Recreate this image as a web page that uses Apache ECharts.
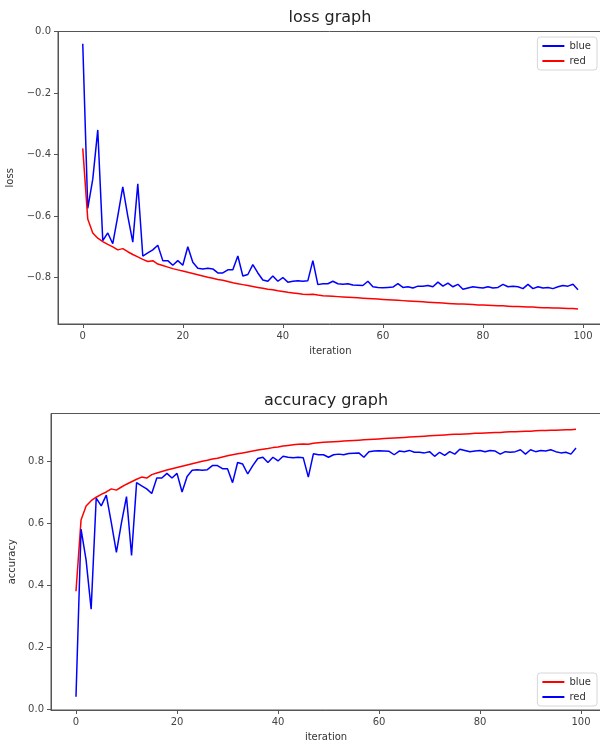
<!DOCTYPE html>
<html><head><meta charset="utf-8">
<script src="https://cdn.jsdelivr.net/npm/echarts@6/dist/echarts.min.js"></script>
<style>html,body{margin:0;padding:0;background:#fff;overflow:hidden}#chartTop{width:600px;height:372px}#chartBot{width:600px;height:373px}</style>
</head><body><div id="chartTop"></div><div id="chartBot"></div>
<script>
const iterations = [0,1,2,3,4,5,6,7,8,9,10,11,12,13,14,15,16,17,18,19,20,21,22,23,24,25,26,27,28,29,30,31,32,33,34,35,36,37,38,39,40,41,42,43,44,45,46,47,48,49,50,51,52,53,54,55,56,57,58,59,60,61,62,63,64,65,66,67,68,69,70,71,72,73,74,75,76,77,78,79,80,81,82,83,84,85,86,87,88,89,90,91,92,93,94,95,96,97,98,99];
const lossBlue = [-0.040,-0.575,-0.480,-0.320,-0.680,-0.655,-0.690,-0.600,-0.505,-0.600,-0.685,-0.495,-0.730,-0.720,-0.710,-0.695,-0.745,-0.745,-0.760,-0.745,-0.760,-0.700,-0.750,-0.770,-0.772,-0.770,-0.772,-0.785,-0.785,-0.775,-0.775,-0.730,-0.795,-0.790,-0.758,-0.785,-0.808,-0.812,-0.795,-0.812,-0.800,-0.815,-0.812,-0.810,-0.812,-0.810,-0.745,-0.823,-0.820,-0.820,-0.812,-0.820,-0.822,-0.820,-0.824,-0.825,-0.826,-0.812,-0.830,-0.832,-0.833,-0.832,-0.831,-0.820,-0.832,-0.830,-0.834,-0.828,-0.828,-0.826,-0.830,-0.815,-0.828,-0.818,-0.830,-0.822,-0.838,-0.834,-0.830,-0.832,-0.834,-0.830,-0.834,-0.832,-0.822,-0.830,-0.828,-0.830,-0.836,-0.822,-0.836,-0.830,-0.834,-0.832,-0.836,-0.830,-0.826,-0.828,-0.822,-0.840];
const lossRed = [-0.380,-0.610,-0.655,-0.672,-0.683,-0.692,-0.700,-0.710,-0.706,-0.716,-0.725,-0.733,-0.741,-0.748,-0.745,-0.756,-0.761,-0.766,-0.771,-0.775,-0.779,-0.783,-0.787,-0.791,-0.795,-0.799,-0.802,-0.806,-0.809,-0.813,-0.817,-0.820,-0.823,-0.826,-0.829,-0.832,-0.835,-0.838,-0.840,-0.843,-0.845,-0.848,-0.850,-0.852,-0.854,-0.855,-0.854,-0.857,-0.859,-0.860,-0.861,-0.862,-0.863,-0.864,-0.865,-0.866,-0.867,-0.868,-0.869,-0.870,-0.871,-0.872,-0.873,-0.874,-0.875,-0.876,-0.877,-0.878,-0.879,-0.880,-0.881,-0.882,-0.883,-0.884,-0.885,-0.886,-0.886,-0.887,-0.888,-0.889,-0.889,-0.890,-0.891,-0.892,-0.892,-0.893,-0.894,-0.894,-0.895,-0.896,-0.896,-0.897,-0.898,-0.898,-0.899,-0.899,-0.900,-0.901,-0.901,-0.902];
// accuracy graph: smooth red line is labelled "blue", noisy blue line is labelled "red"
const accSmooth = [0.380,0.610,0.655,0.672,0.683,0.692,0.700,0.710,0.706,0.716,0.725,0.733,0.741,0.748,0.745,0.756,0.761,0.766,0.771,0.775,0.779,0.783,0.787,0.791,0.795,0.799,0.802,0.806,0.809,0.813,0.817,0.820,0.823,0.826,0.829,0.832,0.835,0.838,0.840,0.843,0.845,0.848,0.850,0.852,0.854,0.855,0.854,0.857,0.859,0.860,0.861,0.862,0.863,0.864,0.865,0.866,0.867,0.868,0.869,0.870,0.871,0.872,0.873,0.874,0.875,0.876,0.877,0.878,0.879,0.880,0.881,0.882,0.883,0.884,0.885,0.886,0.886,0.887,0.888,0.889,0.889,0.890,0.891,0.892,0.892,0.893,0.894,0.894,0.895,0.896,0.896,0.897,0.898,0.898,0.899,0.899,0.900,0.901,0.901,0.902];
const accNoisy = [0.040,0.580,0.480,0.322,0.680,0.655,0.690,0.600,0.505,0.600,0.685,0.495,0.730,0.720,0.710,0.695,0.745,0.745,0.760,0.745,0.760,0.700,0.750,0.770,0.772,0.770,0.772,0.785,0.785,0.775,0.775,0.730,0.795,0.790,0.758,0.785,0.808,0.812,0.795,0.812,0.800,0.815,0.812,0.810,0.812,0.810,0.748,0.823,0.820,0.820,0.812,0.820,0.822,0.820,0.824,0.825,0.826,0.812,0.830,0.832,0.833,0.832,0.831,0.820,0.832,0.830,0.834,0.828,0.828,0.826,0.830,0.815,0.828,0.818,0.830,0.822,0.838,0.834,0.830,0.832,0.834,0.830,0.834,0.832,0.822,0.830,0.828,0.830,0.836,0.822,0.836,0.830,0.834,0.832,0.836,0.830,0.826,0.828,0.822,0.842];
const xTicks = [0,20,40,60,80,100];
const lossTicks = [-0.8,-0.6,-0.4,-0.2,0.0];
const accTicks = [0.0,0.2,0.4,0.6,0.8];
const seriesNames = ['blue','red'];

const FONT = 'DejaVu Sans';
const AX = '#555';
function pairs(vals){ return iterations.map((x,i)=>[x, vals[i]]); }
function fmtY(v){ return v.toFixed(1).replace('-', '\u2212'); }

function build(cfg){
  return {
    animation:false,
    textStyle:{fontFamily:FONT},
    graphic:[{type:'text', x:cfg.titleX, y:cfg.titleY, style:{text:cfg.title, fontSize:16, fontFamily:FONT, fill:'#222', align:'center', verticalAlign:'middle', textAlign:'center', textVerticalAlign:'middle'}}],
    grid:{left:cfg.grid.left, right:cfg.grid.right, top:cfg.grid.top, bottom:cfg.grid.bottom, show:true, borderColor:AX, borderWidth:1, backgroundColor:'transparent', outerBoundsMode:'none', containLabel:false},
    legend:Object.assign({
      orient:'vertical', data:seriesNames, icon:'rect', itemWidth:22, itemHeight:2, itemGap:5,
      textStyle:{fontSize:10, color:'#333', fontFamily:FONT},
      backgroundColor:'rgba(255,255,255,0.8)', borderColor:'#d6d6d6', borderWidth:1, borderRadius:3,
      padding:[4,6,4,5], selectedMode:false
    }, cfg.legendPos),
    xAxis:{type:'value', min:-4.95, max:103.95,
      name:'iteration', nameLocation:'middle', nameGap:cfg.xNameGap,
      nameTextStyle:{fontSize:10, color:'#333', fontFamily:FONT},
      axisLine:{show:true, onZero:false, lineStyle:{color:AX, width:1}},
      axisTick:{show:true, length:4, customValues:xTicks, lineStyle:{color:AX}},
      axisLabel:{customValues:xTicks, fontSize:10, color:'#444', margin:7, formatter:v=>String(Math.round(v))},
      splitLine:{show:false}},
    yAxis:{type:'value', min:cfg.yMin, max:cfg.yMax,
      name:cfg.yName, nameLocation:'middle', nameGap:cfg.yNameGap, nameRotate:90,
      nameTextStyle:{fontSize:10, color:'#333', fontFamily:FONT},
      axisLine:{show:true, onZero:false, lineStyle:{color:AX, width:1}},
      axisTick:{show:true, length:4, customValues:cfg.yTicks, lineStyle:{color:AX}},
      axisLabel:{customValues:cfg.yTicks, fontSize:10, color:'#444', margin:7, formatter:fmtY},
      splitLine:{show:false}},
    series:cfg.series.map(s=>({type:'line', name:s.name, data:pairs(s.data), showSymbol:false, symbol:'none',
      lineStyle:{color:s.color, width:1.5}, itemStyle:{color:s.color}, z:s.z, silent:true}))
  };
}

const chartTop = echarts.init(document.getElementById('chartTop'), null, {renderer:'canvas'});
chartTop.setOption(build({
  title:'loss graph', titleX:330, titleY:18,
  grid:{left:58, right:-2.75, top:31.5, bottom:48},
  legendPos:{right:3, top:37},
  xNameGap:22, yName:'loss', yNameGap:38,
  yMin:-0.951, yMax:0, yTicks:lossTicks,
  series:[{name:'blue', data:lossBlue, color:'#0000ff', z:2},{name:'red', data:lossRed, color:'#ff0000', z:3}]
}));

const chartBot = echarts.init(document.getElementById('chartBot'), null, {renderer:'canvas'});
chartBot.setOption(build({
  title:'accuracy graph', titleX:326, titleY:29,
  grid:{left:51, right:-1, top:41.5, bottom:35},
  legendPos:{right:3, bottom:39},
  xNameGap:22, yName:'accuracy', yNameGap:31,
  yMin:-0.003, yMax:0.953, yTicks:accTicks,
  series:[{name:'blue', data:accSmooth, color:'#ff0000', z:2},{name:'red', data:accNoisy, color:'#0000ff', z:3}]
}));
</script></body></html>
